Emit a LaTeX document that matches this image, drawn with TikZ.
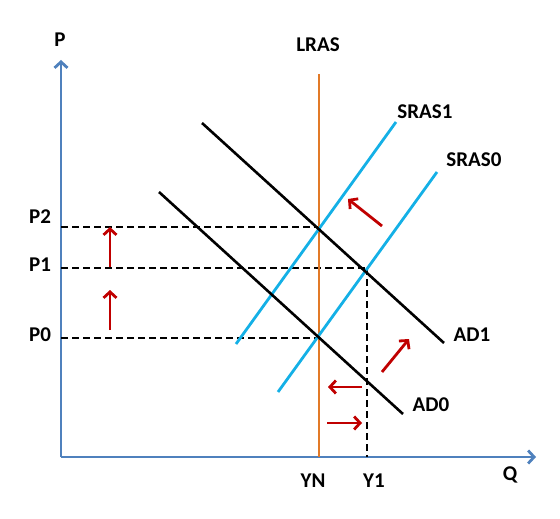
\documentclass[tikz,border=0pt]{standalone}
\usepackage{fontspec}
\setmainfont{Carlito}
\usepackage{xcolor}
\definecolor{axblue}{RGB}{79, 129, 189}
\definecolor{lrasorange}{RGB}{226, 122, 40}
\definecolor{rascyan}{RGB}{20, 176, 230}
\definecolor{shiftred}{RGB}{192, 0, 0}
\usetikzlibrary{calc,positioning,arrows.meta}

\begin{document}
\begin{tikzpicture}[x=1pt, y=-1pt,
    axis/.style={axblue, line width=2.8pt, -{Straight Barb[length=6pt,width=13pt]}},
    lras/.style={lrasorange, line width=2.8pt},
    sras/.style={rascyan, line width=2.8pt},
    adline/.style={black, line width=2.6pt},
    guide/.style={black, line width=2.5pt, dash pattern=on 7pt off 4pt},
    shiftarrow/.style={shiftred, line width=2.8pt, -{Straight Barb[length=6pt,width=13pt]}},
    lbl/.style={font=\fontsize{21}{25}\selectfont\bfseries, inner sep=0pt}]
    \useasboundingbox (0,0) rectangle (560,519);

    % Axes
    \coordinate (O) at (61,457);
    \coordinate (ytop) at (61,60);
    \coordinate (xend) at (536,457);
    \draw[axis] (O) -- (ytop);
    \draw[axis] (O) -- (xend);
    \node[lbl] (plabel) at (60,40) {P};
    \node[lbl] (qlabel) at (510,475) {Q};

    % Long run aggregate supply
    \coordinate (lrastop) at (319,74);
    \coordinate (lrasbot) at (319,457);
    \node[lbl] (lraslabel) at (318,45) {LRAS};

    % Equilibrium points
    \coordinate (e0) at (319,338);
    \coordinate (e1) at (367,268);
    \coordinate (e2) at (319,227);

    % Dashed guides
    \draw[guide] (61,338) -- (e0);
    \draw[guide] (61,268) -- (e1);
    \draw[guide] (61,227) -- (e2);
    \draw[guide] (e1) -- (367,457);

    \draw[lras] (lrastop) -- (lrasbot);

    % Short run aggregate supply
    \coordinate (s1a) at (236,344);
    \coordinate (s1b) at (396,122);
    \coordinate (s0a) at (278,392);
    \coordinate (s0b) at (437,172);
    \draw[sras] (s1a) -- (s1b);
    \draw[sras] (s0a) -- (s0b);
    \node[lbl] (sras1) at (425,112) {SRAS1};
    \node[lbl] (sras0) at (474,160) {SRAS0};

    % Aggregate demand
    \coordinate (d1a) at (202,123);
    \coordinate (d1b) at (444,343);
    \coordinate (d0a) at (159,192);
    \coordinate (d0b) at (403,414);
    \draw[adline] (d1a) -- (d1b);
    \draw[adline] (d0a) -- (d0b);
    \node[lbl] (ad1) at (472,335) {AD1};
    \node[lbl] (ad0) at (431,405) {AD0};

    % Axis values
    \node[lbl] (p2) at (40,217) {P2};
    \node[lbl] (p1) at (40,265) {P1};
    \node[lbl] (p0) at (40,335) {P0};
    \node[lbl] (yn) at (313,481) {YN};
    \node[lbl] (y1) at (374,481) {Y1};

    % Shifts
    \foreach \x/\ya/\yb in {110/267/227, 110/330/290} {
        \draw[shiftarrow] (\x,\ya) -- (\x,\yb);
    }
    \draw[shiftarrow] (382,226) -- (348,199);
    \draw[shiftarrow] (382,372) -- (409,339);
    \draw[shiftarrow] (362,387) -- (328,387);
    \draw[shiftarrow] (327,423) -- (362,423);
\end{tikzpicture}
\end{document}
